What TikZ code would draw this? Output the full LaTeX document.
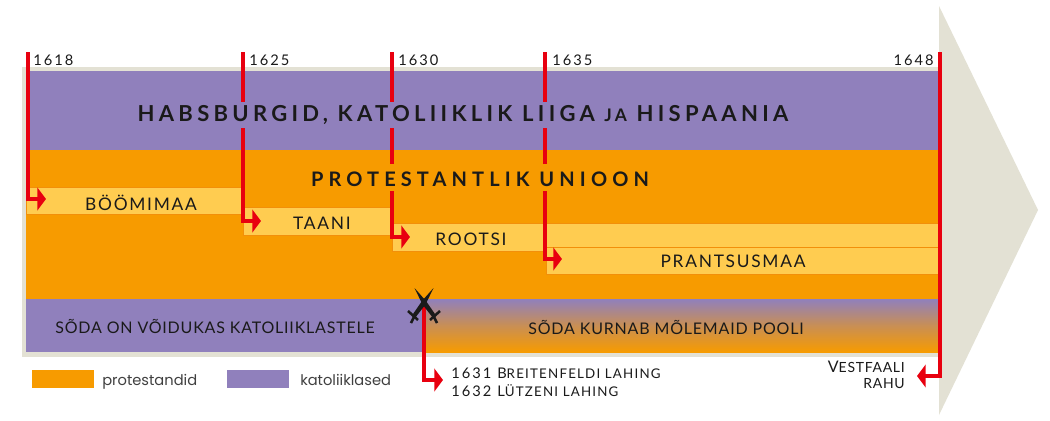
\documentclass[tikz,border=0pt]{standalone}
\usepackage{fontspec}
\setmainfont{Lato}
\newfontfamily\legendfont{Poppins}
\usetikzlibrary{arrows.meta}
\definecolor{kath}{HTML}{9080BC}
\definecolor{prot}{HTML}{F79B00}
\definecolor{bar}{HTML}{FFCC50}
\definecolor{barline}{HTML}{F28F0A}
\definecolor{beige}{HTML}{E3E1D4}
\definecolor{war}{HTML}{E8000F}
\definecolor{ink}{HTML}{1A1A1A}
\newcommand{\capsmall}[1]{{\fontsize{10}{10}\selectfont\addfontfeature{LetterSpace=9}#1}}
\tikzset{
  band/.style={fill=#1, draw=none},
  barbox/.style={fill=bar, draw=barline, line width=0.7pt},
  warline/.style={draw=war, line width=3pt},
  warturn/.style={draw=war, line width=3pt, -{Triangle[length=6.5pt,width=17pt]}},
  yr/.style={text=ink, font=\fontsize{11}{11}\selectfont\addfontfeatures{LetterSpace=14}, inner sep=0pt, anchor=base west},
  title/.style={text=ink, font=\fontsize{16.5}{16.5}\bfseries\selectfont\addfontfeatures{LetterSpace=19.5}, inner sep=0pt},
  subtitle/.style={text=ink, font=\fontsize{15}{15}\bfseries\selectfont\addfontfeatures{LetterSpace=25.5}, inner sep=0pt},
  lbl/.style={text=ink, font=\fontsize{13}{13}\selectfont\addfontfeatures{LetterSpace=10}, inner sep=0pt},
  warlbl/.style={text=ink, font=\fontsize{12}{12}\selectfont\addfontfeatures{LetterSpace=5}, inner sep=0pt},
  leg/.style={text=black!75, font=\fontsize{11}{11}\legendfont\selectfont, inner sep=0pt, anchor=base west}
}
\begin{document}
\begin{tikzpicture}[x=0.75pt,y=-0.75pt]
\useasboundingbox (0,0) rectangle (1050,421);
\fill[white] (0,0) rectangle (1050,421);
% big arrow
\fill[beige] (939,6) -- (1038,210) -- (939,415) -- cycle;
\fill[beige] (22,67) rectangle (939,357);
% bands
\fill[band=kath] (26,71) rectangle (938,150);
\fill[band=prot] (26,150) rectangle (938,299);
\fill[band=kath] (26,299) rectangle (424,352);
\shade[top color=kath, bottom color=prot, middle color=prot!55!kath] (424,299) rectangle (938,352);
% bars
\draw[barbox] (26,187) rectangle (242,214);
\draw[barbox] (243,207) rectangle (392,235);
\draw[barbox] (392,223) rectangle (938,251);
\draw[barbox] (546,247) rectangle (938,274);
% texts
\node[title] (habs) at (463,115) {HABSBURGID, KATOLIIKLIK LIIGA {\fontsize{13}{13}\selectfont JA} HISPAANIA};
\node[subtitle] (union) at (480,179) {PROTESTANTLIK UNIOON};
\node[lbl] (boh) at (141,203) {BÖÖMIMAA};
\node[lbl] (den) at (322,223) {TAANI};
\node[lbl] (swe) at (471,239) {ROOTSI};
\node[lbl] (fra) at (733,261) {PRANTSUSMAA};
\node[warlbl] (won) at (215,326) {SÕDA ON VÕIDUKAS KATOLIIKLASTELE};
\node[warlbl] (both) at (666,327) {SÕDA KURNAB MÕLEMAID POOLI};
\node[yr] (y18) at (33,65) {1618};
\node[yr] (y25) at (249,65) {1625};
\node[yr] (y30) at (398,65) {1630};
\node[yr] (y35) at (552,65) {1635};
\node[yr, anchor=base east] (y48) at (934,65) {1648};
\node[yr] (brt) at (451,378) {1631 B\capsmall{REITENFELDI LAHING}};
\node[yr] (lut) at (451,396) {1632 L\capsmall{ÜTZENI LAHING}};
\node[warlbl, anchor=base east] (pea) at (905,372) {V{\fontsize{10.5}{10.5}\selectfont ESTFAALI}};
\node[warlbl, anchor=base east] (ce) at (905,388) {\fontsize{10.5}{10.5}\selectfont RAHU};
% legend
\fill[band=prot] (32,370) rectangle (94,388);
\fill[band=kath] (227,370) rectangle (289,388);
\node[leg] (lp) at (102,385) {protestandid};
\node[leg] (lk) at (300,385) {katoliiklased};
% year lines
\draw[warturn] (28,52) |- (46,199);
\draw[warline] (243,52) -- (243,102);
\draw[warturn] (243,128) |- (261,221);
\draw[warline] (392,52) -- (392,102);
\draw[warline] (392,128) -- (392,164);
\draw[warturn] (392,191) |- (410,237);
\draw[warline] (544.5,52) -- (544.5,102);
\draw[warline] (544.5,128) -- (544.5,164);
\draw[warturn] (544.5,191) |- (562,259);
\draw[warturn] (940,52) |- (917,376);
\draw[warturn] (424,305) |- (443,380);
% swords
\foreach \side in {1,-1} {
  \begin{scope}[shift={(424,0)}, xscale=\side]
    \fill[ink] (9.5,288) -- (1.5,304.5) -- (-9,318) -- (-12,315.5) -- (-2,301) -- cycle;
    \draw[ink, line width=1.9pt] (-16,311) -- (-6,320);
    \draw[ink, line width=1.9pt] (-8,313) -- (-13,323);
  \end{scope}
}
\end{tikzpicture}
\end{document}
